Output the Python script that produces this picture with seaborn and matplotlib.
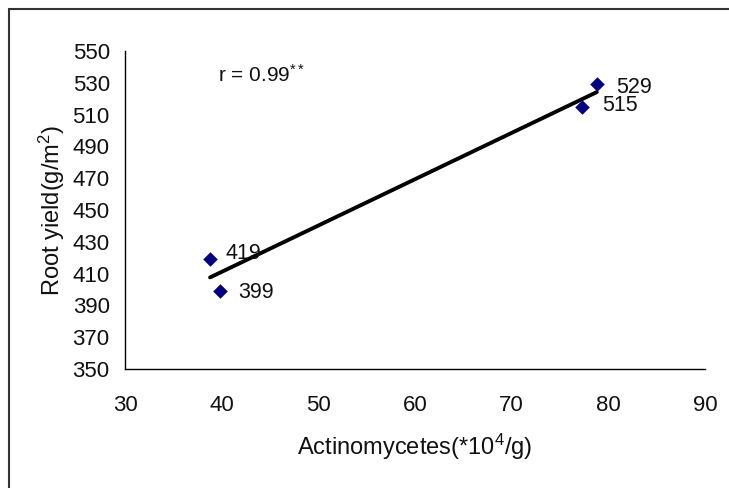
import matplotlib
matplotlib.use("Agg")
import matplotlib.pyplot as plt
import seaborn as sns
import pandas as pd
from matplotlib.lines import Line2D

# Data
actinomycetes = [38.8, 39.8, 77.3, 78.8]
root_yield = [419, 399, 515, 529]
point_labels = ["419", "399", "515", "529"]
label_offsets = [(11, 4), (13, -1), (14, 1), (14, -2)]
x_ticks = [30, 40, 50, 60, 70, 80, 90]
y_ticks = [350, 370, 390, 410, 430, 450, 470, 490, 510, 530, 550]

df = pd.DataFrame({"x": actinomycetes, "y": root_yield})

sns.set_theme(style="white")
plt.rcParams["font.family"] = ["Liberation Sans", "DejaVu Sans"]
plt.rcParams["mathtext.fontset"] = "custom"
plt.rcParams["mathtext.rm"] = "Liberation Sans"
plt.rcParams["mathtext.it"] = "Liberation Sans"

fig = plt.figure(figsize=(7.29, 4.88), dpi=100)
ax = fig.add_axes([125 / 729, 1 - 369 / 488, 580 / 729, 318 / 488])

sns.regplot(data=df, x="x", y="y", ax=ax, scatter=False, ci=None,
            truncate=True, color="black", line_kws={"linewidth": 2.8})
sns.scatterplot(data=df, x="x", y="y", ax=ax, marker="D", s=55,
                color="#000080", edgecolor="#000080", linewidth=0, zorder=3)

for xv, yv, lab, off in zip(actinomycetes, root_yield, point_labels, label_offsets):
    ax.annotate(lab, (xv, yv), xytext=off, textcoords="offset points",
                ha="left", va="center", fontsize=15.5, color="#111111")

ax.text(39.62, 535, r"r = 0.99$^{**}$", fontsize=15, ha="left", va="center",
        color="#111111")

ax.set_xlim(30, 90)
ax.set_ylim(350, 550)
ax.set_xticks(x_ticks)
ax.set_yticks(y_ticks)
ax.tick_params(axis="both", direction="in", length=6, width=1, color="black",
               labelsize=16, labelcolor="#111111")
ax.tick_params(axis="y", pad=11)
ax.tick_params(axis="x", pad=19)

for s in ["top", "right"]:
    ax.spines[s].set_visible(False)
for s in ["left", "bottom"]:
    ax.spines[s].set_color("black")
    ax.spines[s].set_linewidth(1.0)

ax.set_xlabel(r"Actinomycetes(*10$^4$/g)", fontsize=17, color="#111111", va="center")
ax.set_ylabel(r"Root yield(g/m$^2$)", fontsize=17, color="#111111", va="center")
ax.xaxis.set_label_coords((415 - 125) / 580, (369 - 447) / 318)
ax.yaxis.set_label_coords((52 - 125) / 580, (369 - 211) / 318)

# outer frame (top and left edges, as in the reference)
fig.add_artist(Line2D([9 / 729, 9 / 729], [0, 1 - 9 / 488], transform=fig.transFigure,
                      color="#333333", linewidth=1.5))
fig.add_artist(Line2D([9 / 729, 1], [1 - 9 / 488, 1 - 9 / 488], transform=fig.transFigure,
                      color="#333333", linewidth=1.5))

fig.savefig("out.png", dpi=100)
